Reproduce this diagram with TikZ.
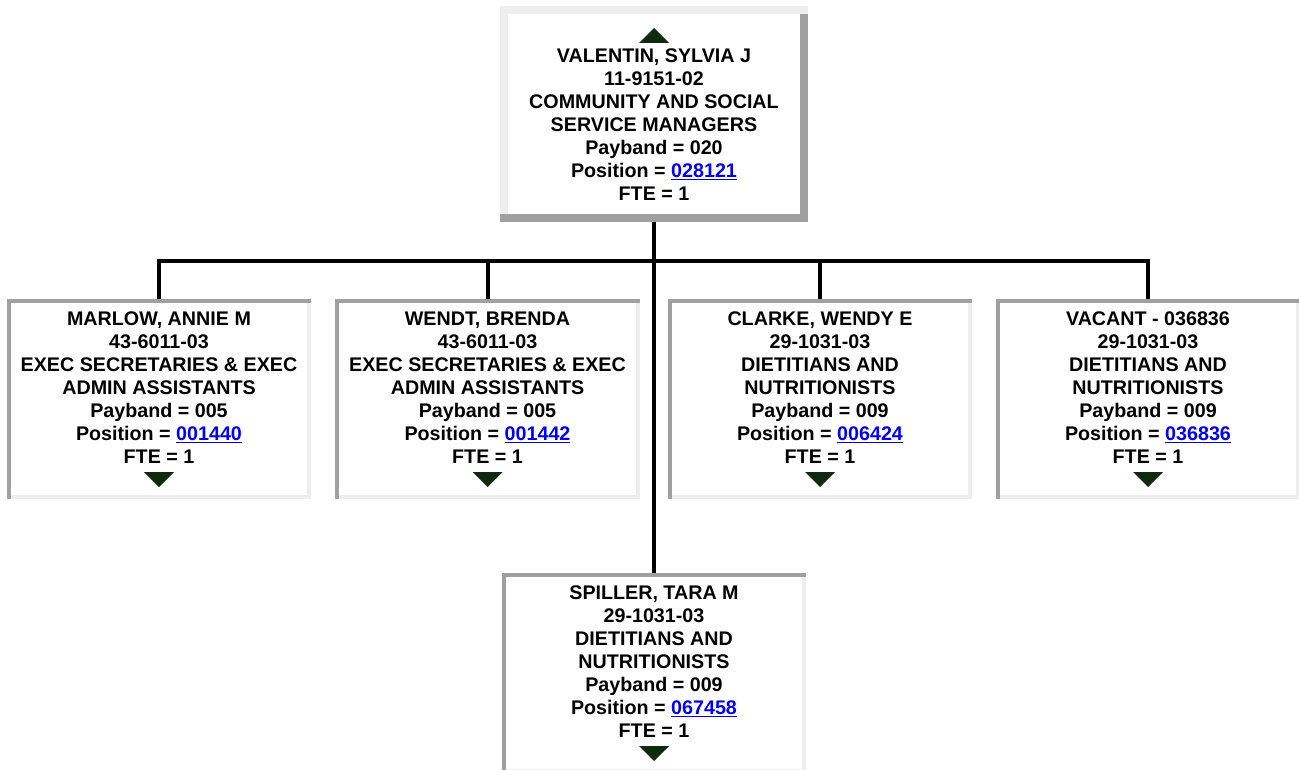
\documentclass[tikz,border=0pt]{standalone}
\usepackage{fontspec}
\setmainfont{Liberation Sans}
\usepackage{xcolor}
\usepackage{tikz}
\usetikzlibrary{positioning,calc}
\definecolor{edgelight}{HTML}{EEEEEE}
\definecolor{edgedark}{HTML}{A0A0A0}
\definecolor{linkblue}{HTML}{0000EE}
\definecolor{tickgreen}{HTML}{102A10}
\newcommand{\cardfont}{\fontsize{19.7}{23}\selectfont\bfseries}
\newcommand{\poslink}[1]{\textcolor{linkblue}{\underline{#1}}}
% sunken edge of a child card: dark top and left, light bottom and right
\newcommand{\insetedge}[1]{%
  \fill[edgelight] ([xshift=-4]#1.south east) rectangle ([yshift=-4]#1.north east);
  \fill[edgelight] ([xshift=4]#1.south west) rectangle ([yshift=4]#1.south east);
  \fill[edgedark] ([yshift=-4]#1.north west) rectangle (#1.north east);
  \fill[edgedark] (#1.south west) rectangle ([xshift=4]#1.north west);}
% raised edge of the top card: light top and left, dark bottom and right
\newcommand{\outsetedge}[1]{%
  \fill[edgelight] ([yshift=-8]#1.north west) rectangle (#1.north east);
  \fill[edgelight] ([yshift=8]#1.south west) rectangle ([xshift=8]#1.north west);
  \fill[edgedark] (#1.south west) rectangle ([yshift=8]#1.south east);
  \fill[edgedark] ([shift={(-8,8)}]#1.south east) rectangle ([yshift=-8]#1.north east);}
\newcommand{\downtick}[1]{%
  \fill[tickgreen] ([shift={(-15,-173)}]#1.north) -- ++(30,0) -- ++(-15,-15) -- cycle;}

\begin{document}
\begin{tikzpicture}[x=1pt, y=1pt,
    card/.style={fill=white, inner sep=0pt, anchor=north,
                 minimum width=304pt, minimum height=200pt},
    cardtext/.style={inner sep=0pt, align=center, font=\cardfont},
    wire/.style={line width=4pt, line join=miter}]
  \useasboundingbox (0,0) rectangle (1299,-770);
  \fill[white] (0,0) rectangle (1299,-770);

  % boxes
  \node[card, minimum width=308pt, minimum height=216pt] (boss) at (654,-6) {};
  \node[card] (marlow) at (159,-299) {};
  \node[card, minimum width=305pt] (wendt) at (487.5,-299) {};
  \node[card] (clarke) at (820,-299) {};
  \node[card] (vacant) at (1148,-299) {};
  \node[card] (spiller) at (654,-573) {};

  % connectors
  \draw[wire] (boss.south) -- (spiller.north);
  \draw[wire] (marlow.north) -- ++(0,38) -| (vacant.north);
  \draw[wire] (wendt.north) -- ++(0,38);
  \draw[wire] (clarke.north) -- ++(0,38);

  \outsetedge{boss}
  \foreach \n in {marlow,wendt,clarke,vacant,spiller} {
    \insetedge{\n}
    \downtick{\n}
  }
  \fill[tickgreen] ([shift={(-15,-37)}]boss.north) -- ++(30,0) -- ++(-15,15) -- cycle;

  % texts
  \node[cardtext, below=43pt of boss.north] (bosstext) {VALENTIN, SYLVIA J\\11-9151-02\\COMMUNITY AND SOCIAL\\SERVICE MANAGERS\\Payband = 020\\Position = \poslink{028121}\\FTE = 1};
  \node[cardtext, below=13pt of marlow.north] (marlowtext) {MARLOW, ANNIE M\\43-6011-03\\EXEC SECRETARIES \& EXEC\\ADMIN ASSISTANTS\\Payband = 005\\Position = \poslink{001440}\\FTE = 1};
  \node[cardtext, below=13pt of wendt.north] (wendttext) {WENDT, BRENDA\\43-6011-03\\EXEC SECRETARIES \& EXEC\\ADMIN ASSISTANTS\\Payband = 005\\Position = \poslink{001442}\\FTE = 1};
  \node[cardtext, below=13pt of clarke.north] (clarketext) {CLARKE, WENDY E\\29-1031-03\\DIETITIANS AND\\NUTRITIONISTS\\Payband = 009\\Position = \poslink{006424}\\FTE = 1};
  \node[cardtext, below=13pt of vacant.north] (vacanttext) {VACANT - 036836\\29-1031-03\\DIETITIANS AND\\NUTRITIONISTS\\Payband = 009\\Position = \poslink{036836}\\FTE = 1};
  \node[cardtext, below=13pt of spiller.north] (spillertext) {SPILLER, TARA M\\29-1031-03\\DIETITIANS AND\\NUTRITIONISTS\\Payband = 009\\Position = \poslink{067458}\\FTE = 1};
\end{tikzpicture}
\end{document}
